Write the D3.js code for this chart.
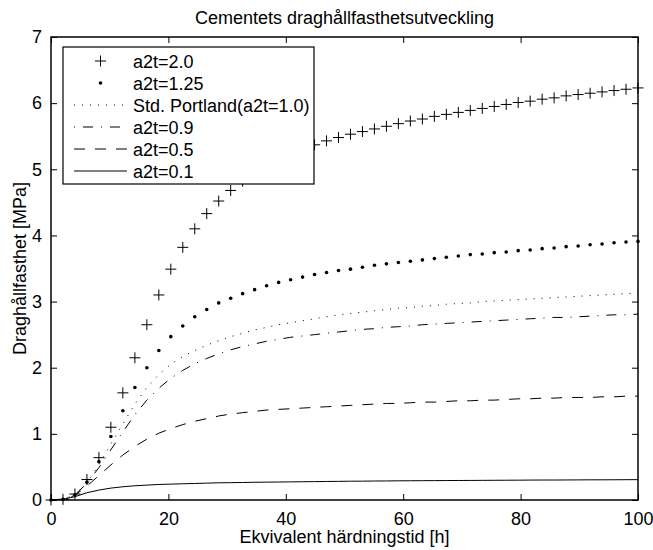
<!DOCTYPE html>
<html>
<head>
<meta charset="utf-8">
<script src="https://cdn.jsdelivr.net/npm/d3@7"></script>
<style>
  body { margin: 0; background: #fff; }
  text { font-family: "Liberation Sans", Arial, Helvetica, sans-serif; fill: #000; }
</style>
</head>
<body>
<svg id="chart" width="653" height="550"></svg>
<script>
// Equivalent curing time [h]
const hours = [0, 2.04, 4.08, 6.12, 8.16, 10.2, 12.24, 14.29, 16.33, 18.37,
  20.41, 22.45, 24.49, 26.53, 28.57, 30.61, 32.65, 34.69, 36.73, 38.78,
  40.82, 42.86, 44.9, 46.94, 48.98, 51.02, 53.06, 55.1, 57.14, 59.18,
  61.22, 63.27, 65.31, 67.35, 69.39, 71.43, 73.47, 75.51, 77.55, 79.59,
  81.63, 83.67, 85.71, 87.76, 89.8, 91.84, 93.88, 95.92, 97.96, 100];

// Tensile strength [MPa] for each a2t value
const a2t_20 = [0, 0.01, 0.09, 0.31, 0.64, 1.10, 1.62, 2.15, 2.65, 3.10,
  3.49, 3.82, 4.10, 4.33, 4.52, 4.68, 4.82, 4.94, 5.05, 5.14,
  5.22, 5.30, 5.37, 5.43, 5.48, 5.53, 5.57, 5.61, 5.65, 5.69,
  5.73, 5.76, 5.80, 5.83, 5.86, 5.89, 5.92, 5.95, 5.98, 6.01,
  6.03, 6.06, 6.08, 6.11, 6.13, 6.15, 6.17, 6.19, 6.21, 6.23];

const a2t_125 = [0, 0.01, 0.08, 0.27, 0.58, 0.96, 1.35, 1.70, 2.00, 2.26,
  2.47, 2.63, 2.77, 2.88, 2.98, 3.05, 3.12, 3.18, 3.24, 3.29,
  3.33, 3.37, 3.41, 3.44, 3.47, 3.49, 3.52, 3.55, 3.57, 3.59,
  3.61, 3.63, 3.65, 3.67, 3.69, 3.71, 3.72, 3.74, 3.75, 3.77,
  3.78, 3.80, 3.81, 3.83, 3.84, 3.86, 3.87, 3.89, 3.90, 3.91];

const a2t_10 = [0, 0.01, 0.08, 0.26, 0.53, 0.85, 1.15, 1.45, 1.70, 1.90,
  2.05, 2.17, 2.26, 2.34, 2.41, 2.47, 2.52, 2.57, 2.61, 2.65,
  2.68, 2.71, 2.74, 2.77, 2.80, 2.82, 2.84, 2.86, 2.88, 2.90,
  2.91, 2.93, 2.94, 2.96, 2.97, 2.98, 3.00, 3.01, 3.02, 3.03,
  3.04, 3.05, 3.06, 3.07, 3.08, 3.09, 3.10, 3.11, 3.12, 3.13];

const a2t_09 = [0, 0.01, 0.08, 0.25, 0.49, 0.76, 1.03, 1.29, 1.51, 1.69,
  1.84, 1.96, 2.06, 2.14, 2.21, 2.27, 2.32, 2.36, 2.40, 2.43,
  2.46, 2.48, 2.50, 2.52, 2.54, 2.56, 2.58, 2.59, 2.61, 2.62,
  2.63, 2.65, 2.66, 2.67, 2.68, 2.69, 2.70, 2.71, 2.72, 2.73,
  2.74, 2.75, 2.76, 2.76, 2.77, 2.78, 2.79, 2.80, 2.80, 2.81];

const a2t_05 = [0, 0.01, 0.07, 0.21, 0.37, 0.53, 0.68, 0.81, 0.92, 1.01,
  1.08, 1.14, 1.19, 1.23, 1.27, 1.30, 1.32, 1.34, 1.36, 1.37,
  1.38, 1.39, 1.40, 1.41, 1.42, 1.43, 1.44, 1.45, 1.46, 1.46,
  1.47, 1.48, 1.48, 1.49, 1.50, 1.50, 1.51, 1.51, 1.52, 1.53,
  1.53, 1.54, 1.54, 1.55, 1.55, 1.55, 1.56, 1.56, 1.57, 1.57];

const a2t_01 = [0, 0.01, 0.05, 0.11, 0.15, 0.18, 0.20, 0.215, 0.225, 0.235,
  0.24, 0.245, 0.25, 0.255, 0.26, 0.262, 0.265, 0.268, 0.27, 0.272,
  0.274, 0.276, 0.278, 0.28, 0.282, 0.284, 0.285, 0.287, 0.288, 0.29,
  0.291, 0.292, 0.293, 0.294, 0.295, 0.296, 0.297, 0.298, 0.299, 0.30,
  0.301, 0.302, 0.302, 0.303, 0.304, 0.305, 0.305, 0.306, 0.307, 0.308];

const seriesLabels = ["a2t=2.0", "a2t=1.25", "Std. Portland(a2t=1.0)", "a2t=0.9", "a2t=0.5", "a2t=0.1"];
const xTicks = [0, 20, 40, 60, 80, 100];
const yTicks = [0, 1, 2, 3, 4, 5, 6, 7];

const titleText = "Cementets draghållfasthetsutveckling";
const xLabelText = "Ekvivalent härdningstid [h]";
const yLabelText = "Draghållfasthet [MPa]";

// ---- layout ----
const plot = { left: 51, right: 638, top: 37, bottom: 500 };
const FONT = 18;

const svg = d3.select("#chart");
const x = d3.scaleLinear().domain([0, 100]).range([plot.left, plot.right]);
const y = d3.scaleLinear().domain([0, 7]).range([plot.bottom, plot.top]);

// dash patterns: dotted, dash-dot, dashed, solid
const series = [
  { label: seriesLabels[0], values: a2t_20, kind: "plus" },
  { label: seriesLabels[1], values: a2t_125, kind: "dot" },
  { label: seriesLabels[2], values: a2t_10, kind: "line", dash: "1,7", legendOffset: 0 },
  { label: seriesLabels[3], values: a2t_09, kind: "line", dash: "10,8,1,8", legendOffset: 18 },
  { label: seriesLabels[4], values: a2t_05, kind: "line", dash: "11,10", legendOffset: 0 },
  { label: seriesLabels[5], values: a2t_01, kind: "line", dash: null, legendOffset: 0 }
];

svg.append("defs").append("clipPath").attr("id", "plotClip")
  .append("rect")
  .attr("x", plot.left).attr("y", plot.top)
  .attr("width", plot.right - plot.left).attr("height", plot.bottom - plot.top);

// ---- axes (ticks point inward on all four sides) ----
const tickLen = 6;
const axB = svg.append("g").attr("transform", `translate(0,${plot.bottom})`)
  .call(d3.axisBottom(x).tickValues(xTicks).tickFormat(d3.format("d"))
    .tickSizeInner(-tickLen).tickSizeOuter(0).tickPadding(12));
const axT = svg.append("g").attr("transform", `translate(0,${plot.top})`)
  .call(d3.axisTop(x).tickValues(xTicks).tickSizeInner(-tickLen).tickSizeOuter(0).tickFormat(""));
const axL = svg.append("g").attr("transform", `translate(${plot.left},0)`)
  .call(d3.axisLeft(y).tickValues(yTicks).tickFormat(d3.format("d"))
    .tickSizeInner(-tickLen).tickSizeOuter(0).tickPadding(9));
const axR = svg.append("g").attr("transform", `translate(${plot.right},0)`)
  .call(d3.axisRight(y).tickValues(yTicks).tickSizeInner(-tickLen).tickSizeOuter(0).tickFormat(""));

[axB, axT, axL, axR].forEach(g => {
  g.select(".domain").remove();
  g.selectAll(".tick line").attr("stroke", "#000").attr("stroke-width", 1);
  g.selectAll(".tick text").attr("font-size", FONT).attr("font-family", null);
});

// ---- data ----
const lineGen = d3.line().x((d, i) => x(hours[i])).y(d => y(d));
const dataG = svg.append("g");
const plusPath = (cx, cy, r) => `M${cx - r},${cy}H${cx + r}M${cx},${cy - r}V${cy + r}`;

series.forEach(s => {
  if (s.kind === "line") {
    dataG.append("path")
      .attr("clip-path", "url(#plotClip)")
      .attr("d", lineGen(s.values))
      .attr("fill", "none")
      .attr("stroke", "#000")
      .attr("stroke-width", 1)
      .attr("stroke-dasharray", s.dash);
  } else if (s.kind === "plus") {
    dataG.append("g").selectAll("path").data(s.values).join("path")
      .attr("d", (d, i) => plusPath(x(hours[i]), y(d), 5.5))
      .attr("stroke", "#000").attr("stroke-width", 1).attr("fill", "none");
  } else {
    dataG.append("g").selectAll("circle").data(s.values).join("circle")
      .attr("cx", (d, i) => x(hours[i]))
      .attr("cy", d => y(d))
      .attr("r", 1.8)
      .attr("fill", "#000");
  }
});

// ---- plot box ----
svg.append("rect")
  .attr("x", plot.left).attr("y", plot.top)
  .attr("width", plot.right - plot.left).attr("height", plot.bottom - plot.top)
  .attr("fill", "none").attr("stroke", "#000").attr("stroke-width", 1.5);

// ---- legend ----
const legend = { x: 63, y: 47, w: 251, h: 137, row0: 61, rowStep: 22, sx0: 74, sx1: 127, tx: 133 };
const lg = svg.append("g");
lg.append("rect")
  .attr("x", legend.x).attr("y", legend.y).attr("width", legend.w).attr("height", legend.h)
  .attr("fill", "#fff").attr("stroke", "#000").attr("stroke-width", 1.2);

series.forEach((s, i) => {
  const cy = legend.row0 + i * legend.rowStep;
  const mx = (legend.sx0 + legend.sx1) / 2;
  if (s.kind === "line") {
    lg.append("line")
      .attr("x1", legend.sx0).attr("x2", legend.sx1).attr("y1", cy).attr("y2", cy)
      .attr("stroke", "#000").attr("stroke-width", 1)
      .attr("stroke-dasharray", s.dash)
      .attr("stroke-dashoffset", s.legendOffset);
  } else if (s.kind === "plus") {
    lg.append("path").attr("d", plusPath(mx, cy, 5.5))
      .attr("stroke", "#000").attr("stroke-width", 1);
  } else {
    lg.append("circle").attr("cx", mx).attr("cy", cy).attr("r", 1.8).attr("fill", "#000");
  }
  lg.append("text")
    .attr("x", legend.tx).attr("y", cy + 6.5)
    .attr("font-size", FONT)
    .text(s.label);
});

// ---- titles ----
const cx = (plot.left + plot.right) / 2;
svg.append("text").attr("x", cx).attr("y", 24).attr("text-anchor", "middle")
  .attr("font-size", FONT).text(titleText);
svg.append("text").attr("x", cx).attr("y", 543).attr("text-anchor", "middle")
  .attr("font-size", FONT).text(xLabelText);
svg.append("text")
  .attr("transform", `translate(26,${(plot.top + plot.bottom) / 2}) rotate(-90)`)
  .attr("text-anchor", "middle")
  .attr("font-size", FONT).text(yLabelText);
</script>
</body>
</html>
